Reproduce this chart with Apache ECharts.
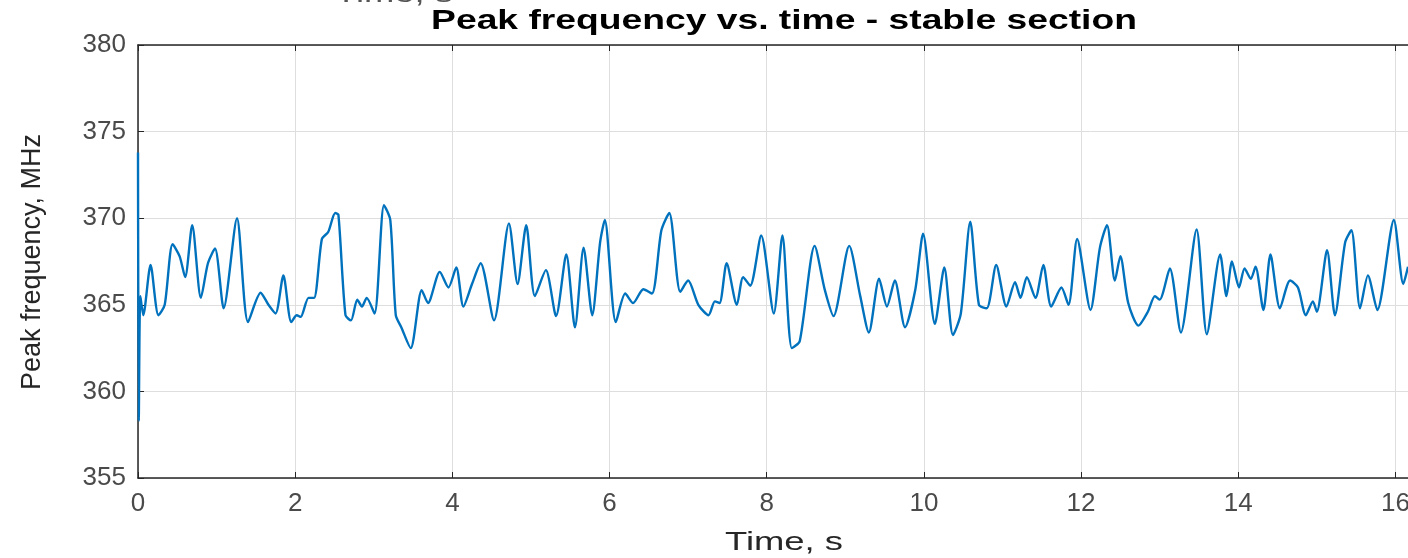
<!DOCTYPE html>
<html>
<head>
<meta charset="utf-8">
<script src="https://cdn.jsdelivr.net/npm/echarts@6/dist/echarts.min.js"></script>
<style>
  html, body { margin: 0; padding: 0; background: #fff; }
  #chart { width: 1408px; height: 558px; }
</style>
</head>
<body>
<div id="chart"></div>
<script>
// time (s) and peak frequency (MHz)
var timeS = [0, 0.01, 0.03, 0.067, 0.16, 0.26, 0.34, 0.44, 0.53, 0.60, 0.69, 0.80, 0.89, 0.98, 1.09, 1.26, 1.40, 1.56, 1.66, 1.75, 1.85, 1.95,
  2.02, 2.07, 2.17, 2.24, 2.34, 2.42, 2.51, 2.55, 2.64, 2.71, 2.79, 2.85, 2.91, 3.01, 3.13, 3.21, 3.28, 3.35, 3.47, 3.61, 3.69, 3.84, 3.95,
  4.05, 4.14, 4.25, 4.36, 4.53, 4.72, 4.83, 4.94, 5.05, 5.19, 5.32, 5.45, 5.56, 5.67, 5.78, 5.88, 5.94,
  6.08, 6.20, 6.30, 6.43, 6.54, 6.66, 6.76, 6.90, 7.00, 7.13, 7.26, 7.34, 7.40, 7.49, 7.62, 7.70, 7.79, 7.93,
  8.09, 8.20, 8.32, 8.42, 8.61, 8.74, 8.85, 9.05, 9.19, 9.30, 9.43, 9.53, 9.63, 9.76, 9.89, 9.99,
  10.14, 10.26, 10.37, 10.47, 10.59, 10.70, 10.80, 10.92, 11.05, 11.16, 11.23, 11.31, 11.42, 11.52, 11.62, 11.75, 11.84, 11.95,
  12.12, 12.24, 12.33, 12.43, 12.50, 12.60, 12.73, 12.85, 12.94, 13.00, 13.13, 13.27, 13.47, 13.60, 13.77, 13.85, 13.92,
  14.01, 14.08, 14.16, 14.22, 14.32, 14.41, 14.53, 14.66, 14.76, 14.86, 14.95, 15.00, 15.13, 15.23, 15.36, 15.44, 15.55, 15.65, 15.77, 15.98,
  16.10, 16.16];
var peakMHz = [373.8, 358.3, 365.5, 364.4, 367.3, 364.4, 365.0, 368.5, 367.8, 366.6, 369.6, 365.4, 367.4, 368.25, 364.8, 370.0, 364.0, 365.7, 365.0, 364.5, 366.7, 364.0,
  364.4, 364.3, 365.4, 365.4, 368.8, 369.2, 370.3, 370.2, 364.4, 364.1, 365.3, 364.9, 365.4, 364.5, 370.75, 369.9, 364.4, 363.7, 362.5, 365.85, 365.1, 366.9, 366.0,
  367.15, 364.9, 366.2, 367.4, 364.1, 369.7, 366.2, 369.6, 365.5, 367.0, 364.35, 367.9, 363.7, 368.3, 364.4, 368.6, 369.9,
  364.0, 365.65, 365.1, 365.9, 365.65, 369.3, 370.3, 365.75, 366.4, 365.0, 364.4, 365.2, 365.1, 367.4, 365.0, 366.6, 366.1, 369.0,
  364.5, 369.0, 362.5, 362.9, 368.4, 365.85, 364.35, 368.4, 365.5, 363.4, 366.5, 364.9, 366.4, 363.7, 365.85, 369.1,
  363.9, 367.15, 363.25, 364.5, 369.8, 365.0, 364.8, 367.3, 364.9, 366.3, 365.4, 366.6, 365.4, 367.3, 364.9, 366.0, 365.0, 368.8,
  364.7, 368.3, 369.6, 366.4, 367.8, 365.1, 363.8, 364.6, 365.5, 365.3, 367.1, 363.4, 369.35, 363.3, 367.9, 365.5, 367.5,
  366.0, 367.1, 366.5, 367.2, 364.7, 367.9, 364.8, 366.4, 366.0, 364.4, 365.2, 364.6, 368.15, 364.4, 368.6, 369.3, 364.8, 366.7, 364.7, 369.9,
  366.2, 367.2];

var titleText = 'Peak frequency vs. time - stable section';
var xName = 'Time, s';
var yName = 'Peak frequency, MHz';

var chart = echarts.init(document.getElementById('chart'));

var seriesData = [];
for (var i = 0; i < timeS.length; i++) {
  seriesData.push([timeS[i], peakMHz[i]]);
}

var txt = '#262626';
var fontFam = '"Liberation Sans", Arial, sans-serif';

var option = {
  backgroundColor: '#fff',
  animation: false,
  grid: {
    left: 138,
    right: 0,
    top: 45,
    bottom: 80,
    outerBoundsMode: 'none'
  },
  xAxis: [{
    type: 'value',
    min: 0,
    max: 16.16,
    interval: 2,
    axisLine: { show: true, lineStyle: { color: txt, width: 1.5 } },
    axisTick: { show: true, inside: true, length: 6, lineStyle: { color: txt } },
    axisLabel: { color: '#4a4a4a', fontSize: 26, fontFamily: fontFam, margin: 13,
      showMaxLabel: false, formatter: function (v) { return Math.round(v) === v ? String(v) : ''; } },
    splitLine: { show: true, lineStyle: { color: '#dedede', width: 1 } }
  }, {
    type: 'value',
    position: 'top',
    min: 0,
    max: 16.16,
    interval: 2,
    axisLine: { show: true, lineStyle: { color: txt, width: 1.5 } },
    axisTick: { show: true, inside: true, length: 6, lineStyle: { color: txt } },
    axisLabel: { show: false },
    splitLine: { show: false }
  }],
  yAxis: {
    type: 'value',
    min: 355,
    max: 380,
    interval: 5,
    axisLine: { show: true, lineStyle: { color: txt, width: 1.5 } },
    axisTick: { show: true, inside: true, length: 6, lineStyle: { color: txt } },
    axisLabel: { color: '#4a4a4a', fontSize: 26, fontFamily: fontFam, margin: 12 },
    splitLine: { show: true, lineStyle: { color: '#dedede', width: 1 } }
  },
  graphic: [{
    type: 'text', x: 784, y: 21, scaleX: 1.33,
    style: { text: titleText, font: 'bold 28px ' + fontFam, fill: '#000', textAlign: 'center', textVerticalAlign: 'middle' }
  }, {
    type: 'text', x: 784, y: 543, scaleX: 1.4,
    style: { text: xName, font: '26px ' + fontFam, fill: txt, textAlign: 'center', textVerticalAlign: 'middle' }
  }, {
    type: 'text', x: 394, y: 8, scaleX: 1.4,
    style: { text: xName, font: '26px ' + fontFam, fill: '#555', textAlign: 'center', textVerticalAlign: 'bottom' }
  }, {
    type: 'text', x: 33, y: 262, rotation: Math.PI / 2,
    style: { text: yName, font: '27px ' + fontFam, fill: txt, textAlign: 'center', textVerticalAlign: 'middle' }
  }],
  series: [{
    type: 'line',
    xAxisIndex: 0,
    data: seriesData,
    showSymbol: false,
    smooth: 0.25,
    lineStyle: { color: '#0072BD', width: 2.4 },
    itemStyle: { color: '#0072BD' }
  }]
};

chart.setOption(option);
window.onresize = function () { chart.resize(); };
</script>
</body>
</html>
